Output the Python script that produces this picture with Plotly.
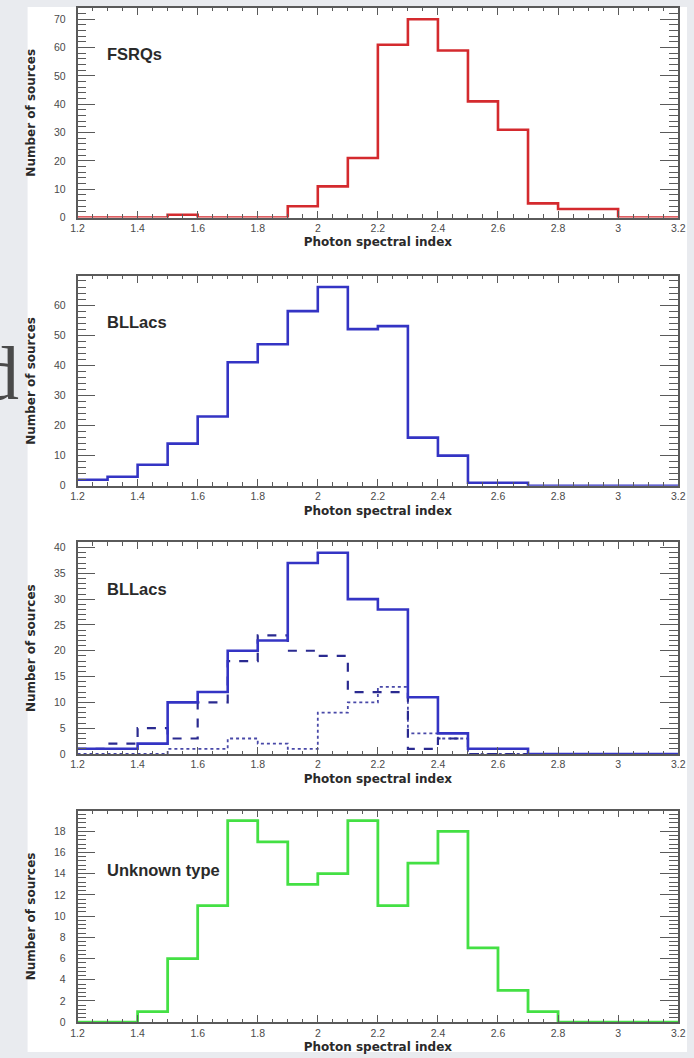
import plotly.graph_objects as go

# ---------------- data ----------------
bin_edges = [1.2, 1.3, 1.4, 1.5, 1.6, 1.7, 1.8, 1.9, 2.0, 2.1, 2.2,
             2.3, 2.4, 2.5, 2.6, 2.7, 2.8, 2.9, 3.0, 3.1, 3.2]

fsrq_counts = [0, 0, 0, 1, 0, 0, 0, 4, 11, 21, 61, 70, 59, 41, 31, 5, 3, 3, 0, 0]
bllac_counts = [2, 3, 7, 14, 23, 41, 47, 58, 66, 52, 53, 16, 10, 1, 1, 0, 0, 0, 0, 0]
bllac_sub_all = [1, 1, 2, 10, 12, 20, 22, 37, 39, 30, 28, 11, 4, 1, 1, 0, 0, 0, 0, 0]
bllac_sub_dashed = [1, 2, 5, 3, 10, 18, 23, 20, 19, 12, 12, 1, 3, 0, 0, 0, 0, 0, 0, 0]
bllac_sub_dotted = [0, 0, 0, 1, 1, 3, 2, 1, 8, 10, 13, 4, 3, 0, 0, 0, 0, 0, 0, 0]
unknown_counts = [0, 0, 1, 6, 11, 19, 17, 13, 14, 19, 11, 15, 18, 7, 3, 1, 0, 0, 0, 0]

panel_labels = ["FSRQs", "BLLacs", "BLLacs", "Unknown type"]
x_title = "Photon spectral index"
y_title = "Number of sources"

# ---------------- geometry ----------------
W, H = 694, 1058
FX0, FX1 = 72, 685
frames = [(7, 218), (277, 488), (545, 758), (815, 1028)]
y_ranges = [[0, 74], [0, 69.6], [0, 41], [0, 19.95]]
y_dticks = [10, 10, 5, 2]
y_minor = [2, 2, 1, 0.4]

RED = "#d42a2e"
BLUE = "#3434c4"
DARKBLUE = "#2a2a90"
DOTBLUE = "#4848a8"
GREEN = "#44e044"
AXC = "#5a5a5a"


def py(y):
    return 1 - y / H


def step(values):
    return values + [values[-1]]


fig = go.Figure()


def add_hist(panel, values, color, width=2.6, dash="solid"):
    sfx = "" if panel == 1 else str(panel)
    fig.add_trace(go.Scatter(
        x=bin_edges, y=step(values), mode="lines",
        line=dict(color=color, width=width, shape="hv", dash=dash),
        xaxis="x" + sfx, yaxis="y" + sfx, showlegend=False,
        hoverinfo="skip"))


add_hist(1, fsrq_counts, RED)
add_hist(2, bllac_counts, BLUE)
add_hist(3, bllac_sub_dotted, DOTBLUE, width=1.8, dash="dot")
add_hist(3, bllac_sub_dashed, DARKBLUE, width=2.2, dash="dash")
add_hist(3, bllac_sub_all, BLUE)
add_hist(4, unknown_counts, GREEN, width=2.8)

tick_font = dict(family="Liberation Sans", size=10.5, color="#4a4a4a")
title_font = dict(family="DejaVu Sans", size=12, color="#2a2a2a", weight="bold")

layout = dict(
    width=W, height=H,
    margin=dict(l=0, r=0, t=0, b=0),
    paper_bgcolor="#e9ebef",
    plot_bgcolor="white",
    showlegend=False,
)

annotations = []
for i, (top, bot) in enumerate(frames):
    n = i + 1
    sfx = "" if n == 1 else str(n)
    layout["xaxis" + sfx] = dict(
        domain=[FX0 / W, FX1 / W], anchor="y" + sfx,
        range=[1.2, 3.2], dtick=0.2, tick0=1.2,
        ticks="inside", ticklen=7, tickwidth=1, tickcolor=AXC,
        minor=dict(dtick=0.05, ticks="inside", ticklen=3.5, tickcolor=AXC),
        showline=True, linecolor=AXC, linewidth=1.6, mirror="allticks",
        showgrid=False, zeroline=False,
        tickfont=tick_font,
        title=dict(text=x_title, font=title_font, standoff=5),
    )
    layout["yaxis" + sfx] = dict(
        domain=[py(bot), py(top)], anchor="x" + sfx,
        range=y_ranges[i], dtick=y_dticks[i], tick0=0,
        ticks="inside", ticklen=18, tickwidth=1, tickcolor=AXC,
        minor=dict(dtick=y_minor[i], ticks="inside", ticklen=9, tickcolor=AXC),
        showline=True, linecolor=AXC, linewidth=1.6, mirror="allticks",
        showgrid=False, zeroline=False,
        tickfont=tick_font, ticklabelstandoff=8,
        title=dict(text=y_title, font=title_font, standoff=16),
    )
    annotations.append(dict(
        text=panel_labels[i], xref="x" + sfx + " domain", yref="y" + sfx + " domain",
        x=(100 - FX0) / (FX1 - FX0), y=0.78 if n != 4 else 0.72,
        xanchor="left", yanchor="middle", showarrow=False,
        font=dict(family="Liberation Sans", size=16.5, color="#2a2a2a", weight="bold")))

# stray slide letter at the left edge
annotations.append(dict(
    text="d", xref="paper", yref="paper", x=14 / W, y=py(374),
    xanchor="right", yanchor="middle", showarrow=False,
    font=dict(family="Liberation Serif", size=76, color="#4a4a4a")))

layout["annotations"] = annotations
layout["shapes"] = [dict(
    type="rect", xref="paper", yref="paper", layer="below",
    x0=21 / W, x1=1, y0=0, y1=py(6),
    fillcolor="white", line=dict(width=0))]

fig.update_layout(**layout)
fig.write_html(
    "out.html",
    config={"displayModeBar": False},
    post_script="document.body.style.margin='0';document.body.style.overflow='hidden';",
)
